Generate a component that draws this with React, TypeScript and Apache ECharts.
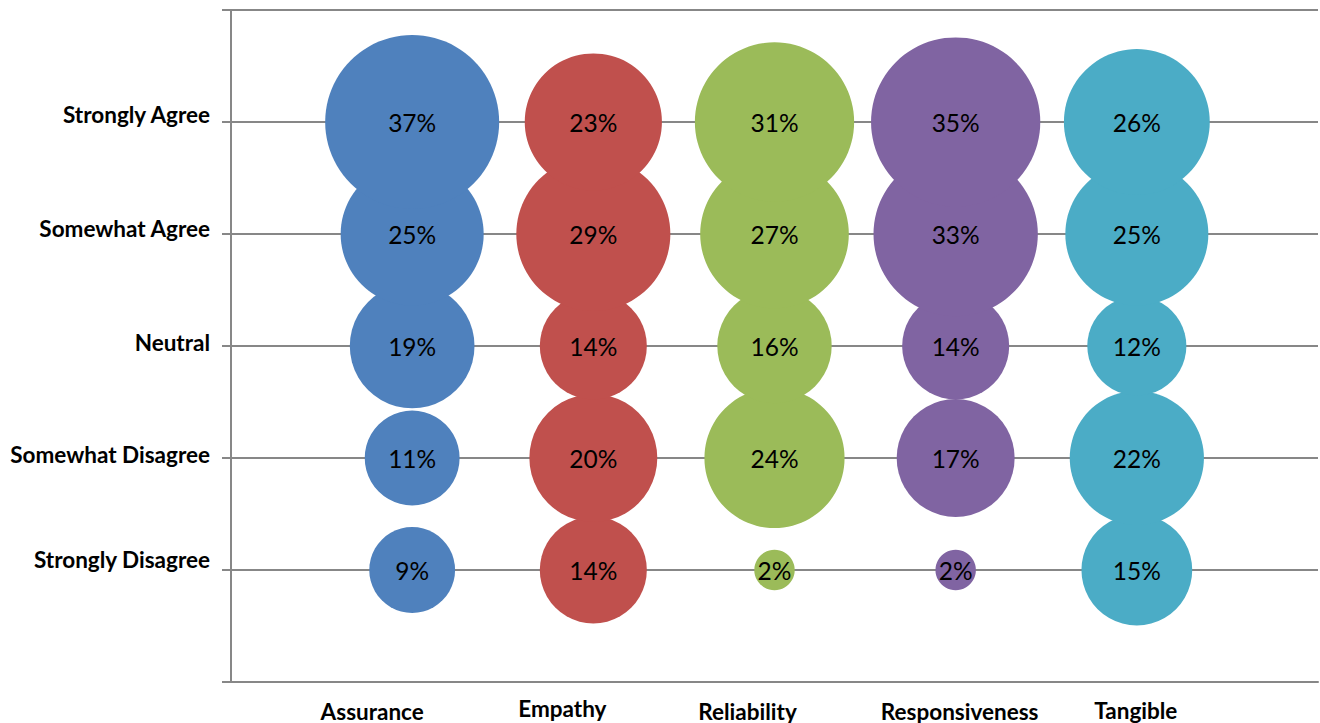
import React, { useEffect, useRef } from "react";
import * as echarts from "echarts";

// Response scale, bottom (1) to top (5)
const levels = [
  "Strongly Disagree",
  "Somewhat Disagree",
  "Neutral",
  "Somewhat Agree",
  "Strongly Agree",
];

// Service quality dimensions, left to right
const dimensions = ["Assurance", "Empathy", "Reliability", "Responsiveness", "Tangible"];

// Share of respondents (%) per level, ordered Strongly Disagree -> Strongly Agree
const assurance = [9, 11, 19, 25, 37];
const empathy = [14, 20, 14, 29, 23];
const reliability = [2, 24, 16, 27, 31];
const responsiveness = [2, 17, 14, 33, 35];
const tangible = [15, 22, 12, 25, 26];

const seriesValues = [assurance, empathy, reliability, responsiveness, tangible];
const colors = ["#4F81BD", "#C0504D", "#9BBB59", "#8064A2", "#4BACC6"];

// Hand-placed label nudges (pixels)
const levelLabelDy = [-11, -4, -4, -6, -8];
const dimLabelDx = [-40, -31, -27, 4, -1];
const dimLabelDy = [29, 26, 29, 29, 28];

const FONT = "Lato, 'Noto Sans', sans-serif";
const GRID_COLOR = "#878787";
const MAX_DIAMETER = 174;
const maxValue = Math.max(...seriesValues.flat());

export default function App() {
  const ref = useRef<HTMLDivElement>(null);

  useEffect(() => {
    if (!ref.current) return;
    const chart = echarts.init(ref.current, undefined, { renderer: "svg" });

    const series = seriesValues.map((vals, si) => ({
      type: "scatter",
      name: dimensions[si],
      data: vals.map((v, li) => [si + 1, li + 1, v]),
      symbol: "circle",
      symbolSize: (d: number[]) => MAX_DIAMETER * Math.sqrt(d[2] / maxValue),
      itemStyle: { color: colors[si], opacity: 1 },
      label: {
        show: true,
        position: "inside",
        formatter: (p: any) => `${p.value[2]}%`,
        color: "#000",
        fontFamily: FONT,
        fontSize: 24.5,
      },
      emphasis: { disabled: true },
    }));

    chart.setOption({
      animation: false,
      grid: { left: 231, right: 2, top: 10, bottom: 41, containLabel: false },
      xAxis: {
        type: "value",
        min: 0,
        max: 6,
        interval: 1,
        axisLabel: { show: false },
        axisTick: { show: false },
        splitLine: { show: false },
        axisLine: { show: true, lineStyle: { color: GRID_COLOR, width: 2 } },
      },
      yAxis: {
        type: "value",
        min: 0,
        max: 6,
        interval: 1,
        axisLabel: { show: false },
        axisTick: { show: true, length: 9, lineStyle: { color: GRID_COLOR, width: 2 } },
        axisLine: { show: true, lineStyle: { color: GRID_COLOR, width: 2 } },
        splitLine: { show: true, lineStyle: { color: GRID_COLOR, width: 2 } },
      },
      series,
    });

    const graphics: any[] = [];
    levels.forEach((name, i) => {
      const [px, py] = chart.convertToPixel({ gridIndex: 0 }, [0, i + 1]);
      graphics.push({
        type: "text",
        x: px - 21,
        y: py + levelLabelDy[i],
        style: {
          text: name,
          align: "right",
          verticalAlign: "middle",
          fontFamily: FONT,
          fontWeight: "bold",
          fontSize: 22.5,
          fill: "#000",
        },
      });
    });
    dimensions.forEach((name, i) => {
      const [px, py] = chart.convertToPixel({ gridIndex: 0 }, [i + 1, 0]);
      graphics.push({
        type: "text",
        x: px + dimLabelDx[i],
        y: py + dimLabelDy[i],
        style: {
          text: name,
          align: "center",
          verticalAlign: "middle",
          fontFamily: FONT,
          fontWeight: "bold",
          fontSize: 22.5,
          fill: "#000",
        },
      });
    });
    chart.setOption({ graphic: graphics });

    return () => chart.dispose();
  }, []);

  return (
    <div
      ref={ref}
      style={{ position: "fixed", left: 0, top: 0, width: 1320, height: 723, background: "#fff" }}
    />
  );
}
